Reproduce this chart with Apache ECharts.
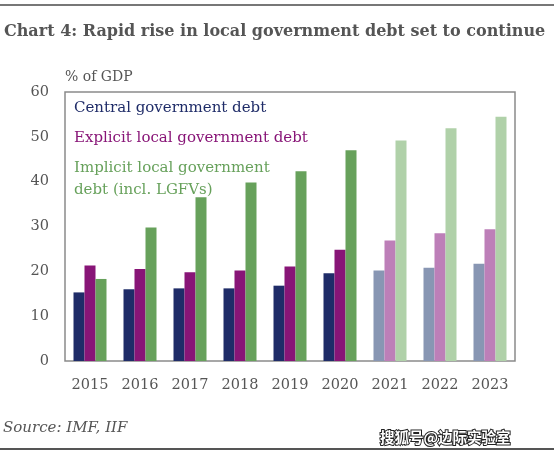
<!DOCTYPE html>
<html><head><meta charset="utf-8">
<script src="https://cdn.jsdelivr.net/npm/echarts@6/dist/echarts.min.js"></script>
<style>html,body{margin:0;padding:0;background:#fff}#c{width:554px;height:459px}</style>
</head><body><div id="c"></div>
<script>
const categories = ['2015','2016','2017','2018','2019','2020','2021','2022','2023'];
const forecastFrom = '2021';
const central = [15.3, 16.0, 16.2, 16.2, 16.8, 19.6, 20.2, 20.8, 21.7];
const explicitLocal = [21.3, 20.5, 19.8, 20.2, 21.1, 24.8, 26.9, 28.5, 29.4];
const implicitLocal = [18.3, 29.8, 36.5, 39.8, 42.3, 47.0, 49.2, 51.9, 54.5];
const yTicks = [0, 10, 20, 30, 40, 50, 60];
const seriesNames = ['Central government debt', 'Explicit local government debt', 'Implicit local government\ndebt (incl. LGFVs)'];

const colors = ['#1f2c68', '#881577', '#67a15b'];
const lightColors = ['#8896b3', '#bd7fb8', '#b0d1a9'];
const fIdx = categories.indexOf(forecastFrom);
const serif = '"DejaVu Serif", serif';

function mk(vals, i) {
  return {
    name: seriesNames[i], type: 'bar', barGap: '0%', barCategoryGap: '34%',
    itemStyle: { color: colors[i] },
    data: vals.map((v, k) => k >= fIdx ? { value: v, itemStyle: { color: lightColors[i] } } : v)
  };
}

const chart = echarts.init(document.getElementById('c'));
chart.setOption({
  animation: false,
  grid: { left: 65, right: 39, top: 92, bottom: 98, show: true, borderColor: '#8a8a8a', borderWidth: 1.5, backgroundColor: 'transparent' },
  legend: {
    orient: 'vertical', left: 68, top: 92, itemGap: 8, icon: 'none', itemWidth: 0, itemHeight: 0,
    selectedMode: false,
    textStyle: { fontFamily: serif, fontSize: 15, lineHeight: 22, padding: [0,0,0,-4] },
    data: seriesNames.map((n, i) => ({ name: n, textStyle: { color: colors[i] } }))
  },
  xAxis: {
    type: 'category', data: categories,
    axisLine: { show: false }, axisTick: { show: false },
    axisLabel: { fontFamily: serif, fontSize: 14.5, color: '#555', margin: 17 }
  },
  yAxis: {
    type: 'value', min: yTicks[0], max: yTicks[yTicks.length - 1], interval: 10,
    name: '% of GDP', nameLocation: 'end', nameGap: 8,
    nameTextStyle: { fontFamily: serif, fontSize: 14, color: '#555', align: 'left', padding: [0,0,0,0] },
    splitLine: { show: false }, axisLine: { show: false }, axisTick: { show: false },
    axisLabel: { fontFamily: serif, fontSize: 14.5, color: '#555', margin: 16 }
  },
  series: [mk(central, 0), mk(explicitLocal, 1), mk(implicitLocal, 2)],
  graphic: [
    { type: 'rect', shape: { x: 0, y: 4, width: 554, height: 2 }, style: { fill: '#777' } },
    { type: 'text', left: 4, top: 24, style: { text: 'Chart 4: Rapid rise in local government debt set to continue', font: 'bold 16px ' + serif, fill: '#555' } },
    { type: 'text', left: 3, top: 421, style: { text: 'Source: IMF, IIF', font: 'italic 15px ' + serif, fill: '#555' } },
    { type: 'rect', shape: { x: 0, y: 448, width: 554, height: 2 }, style: { fill: '#555' } },
    { type: 'text', left: 379, top: 429, style: { text: '搜狐号@边际实验室', font: 'bold 14.5px "Noto Sans CJK SC"', fill: '#fff', stroke: '#222', lineWidth: 2 } }
  ]
});
</script></body></html>
